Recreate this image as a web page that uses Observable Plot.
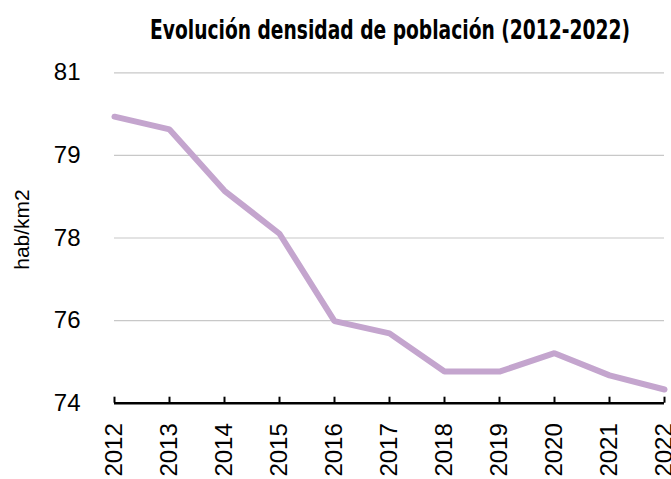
<!DOCTYPE html>
<html>
<head>
<meta charset="utf-8">
<script src="https://cdn.jsdelivr.net/npm/d3@7"></script>
<script src="https://cdn.jsdelivr.net/npm/@observablehq/plot@0.6"></script>
<style>
  html, body { margin: 0; padding: 0; background: #fff; }
  #title { position: relative; width: 671px; height: 50px; color: #000; white-space: nowrap; }
  #title span { position: absolute; left: 390px; top: 17px; transform-origin: center;
    font-family: "Liberation Sans Narrow", "DejaVu Sans Condensed", "Liberation Sans", sans-serif;
    font-weight: bold; font-size: 26px; line-height: 26px; }
</style>
</head>
<body>
<div id="title"><span>Evolución densidad de población (2012-2022)</span></div>
<div id="chart"></div>
<script>
const years = [2012, 2013, 2014, 2015, 2016, 2017, 2018, 2019, 2020, 2021, 2022];
const density = [80.07, 79.80, 78.50, 77.59, 75.74, 75.48, 74.67, 74.67, 75.06, 74.59, 74.29];
const yTicks = [74, 75.75, 77.5, 79.25, 81];
const yLabel = "hab/km2";
const lineColor = "#c4a5ce";

const data = years.map((y, i) => ({year: y, value: density[i]}));

// fit title to the reference width (condensed bold), centred at x = 390
const span = document.querySelector("#title span");
const w = span.getBoundingClientRect().width;
span.style.transform = `translateX(-50%) scaleX(${480 / w})`;

const chart = Plot.plot({
  width: 671,
  height: 429,
  marginTop: 22.3,
  marginBottom: 76.3,
  marginLeft: 114,
  marginRight: 7,
  style: {fontFamily: "Liberation Sans, Arial, sans-serif", fontSize: "24px", color: "#000", background: "#fff"},
  x: {domain: [years[0], years[years.length - 1]]},
  y: {domain: [yTicks[0], yTicks[yTicks.length - 1]]},
  marks: [
    Plot.ruleY(yTicks.slice(1), {stroke: "#c8c8c8", strokeWidth: 1.2}),
    Plot.axisY({ticks: yTicks, tickFormat: d => String(Math.round(d)), tickSize: 0, tickPadding: 34,
      label: null, fill: "#000"}),
    Plot.text([yLabel], {text: d => d, frameAnchor: "left", rotate: -90, dx: -92, dy: -8.5,
      fontSize: 21, fill: "#000", textAnchor: "middle", lineAnchor: "middle"}),
    Plot.line(data, {x: "year", y: "value", stroke: lineColor, strokeWidth: 6, strokeLinejoin: "miter"}),
    Plot.ruleY([yTicks[0]], {stroke: "#000", strokeWidth: 2.4}),
    Plot.axisX({ticks: years, tickSize: -6, strokeWidth: 2, stroke: "#000", text: null, label: null}),
    Plot.axisX({ticks: years, tickFormat: d => String(d), tickSize: 0, tickPadding: 20, tickRotate: -90, label: null, fill: "#000"})
  ]
});
document.getElementById("chart").appendChild(chart);
</script>
</body>
</html>
